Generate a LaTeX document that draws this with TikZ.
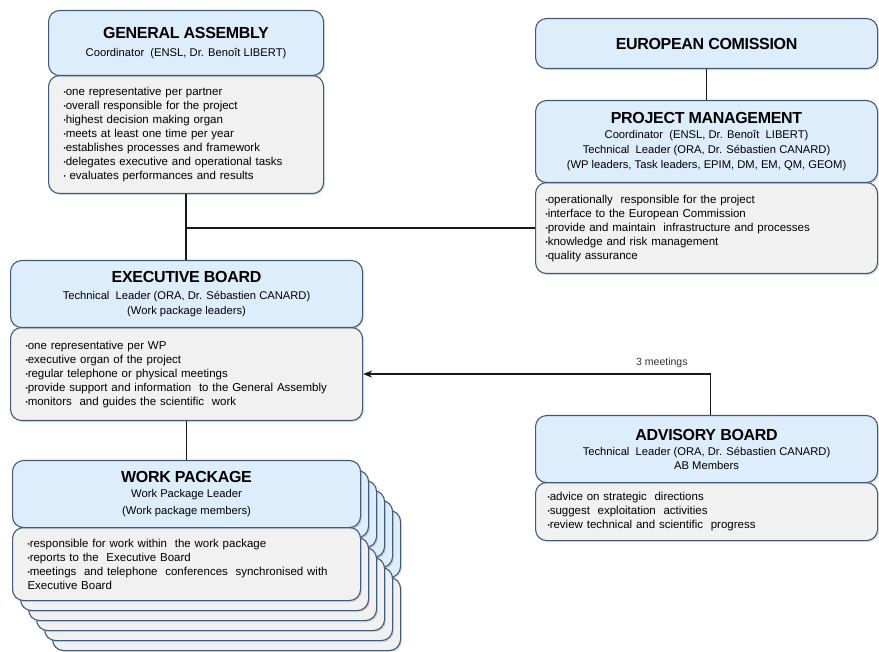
\documentclass[tikz,border=0pt]{standalone}
\usepackage{fontspec}
\usepackage{graphicx}
\setmainfont{Liberation Sans}
\newfontfamily\titlefont[LetterSpace=-2]{Liberation Sans}
\usetikzlibrary{shadows,arrows.meta}
\definecolor{hdrc}{RGB}{221,237,251}
\definecolor{bodc}{RGB}{241,241,241}
\definecolor{bordc}{RGB}{66,90,122}
\definecolor{linec}{RGB}{25,25,25}
\newcommand{\bul}{\raisebox{0.12ex}{\scalebox{0.55}{•}}}
\newcommand{\ttl}[1]{{\titlefont\bfseries\fontsize{16}{15}\selectfont #1}}
\tikzset{
  boxbase/.style={draw=bordc, line width=1.1pt, rounded corners=11pt, anchor=north west,
    drop shadow={opacity=0.25, shadow xshift=1.5pt, shadow yshift=-1.5pt}},
  hdr/.style={boxbase, fill=hdrc, align=center, inner sep=0pt, font=\fontsize{11.2}{15}\selectfont},
  bodyb/.style={boxbase, fill=bodc, align=left, inner ysep=0pt, font=\fontsize{11.5}{14}\selectfont},
  conn/.style={line width=1.6pt, draw=linec},
}
\begin{document}
\begin{tikzpicture}[x=1pt,y=-1pt]
\useasboundingbox (0,0) rectangle (879,652);
\fill[white] (0,0) rectangle (879,652);

% General Assembly
\node[bodyb, minimum width=275pt, minimum height=118pt, text width=245pt, inner xsep=15pt] (gaB) at (48,75)
{\bul one representative per partner\\ \bul overall responsible for the project\\ \bul highest decision making organ\\ \bul meets at least one time per year\\ \bul establishes processes and framework\\ \bul delegates executive and operational tasks\\ \bul\ evaluates performances and results};
\node[hdr, minimum width=275pt, minimum height=65pt] (gaH) at (48,10)
{\ttl{GENERAL ASSEMBLY}\\[3pt] Coordinator\ \ (ENSL, Dr. Benoît LIBERT)};

% European Commission
\node[hdr, minimum width=342pt, minimum height=50pt] (ec) at (535,18) {\ttl{EUROPEAN COMISSION}};

% Project Management
\node[bodyb, minimum width=342pt, minimum height=91pt, text width=322pt, inner xsep=10pt] (pmB) at (535,182)
{\bul operationally\ \ responsible for the project\\ \bul interface to the European Commission\\ \bul provide and maintain\ \ infrastructure and processes\\ \bul knowledge and risk management\\ \bul quality assurance};
\node[hdr, minimum width=342pt, minimum height=82pt] (pmH) at (535,100)
{\ttl{PROJECT MANAGEMENT}\\ Coordinator\ \ (ENSL, Dr. Benoît\ \ LIBERT)\\ Technical\ \ Leader (ORA, Dr. Sébastien CANARD)\\ (WP leaders, Task leaders, EPIM, DM, EM, QM, GEOM)};

% Executive Board
\node[bodyb, minimum width=352pt, minimum height=93pt, text width=322pt, inner xsep=15pt] (ebB) at (10,327)
{\bul one representative per WP\\ \bul executive organ\ of the project\\ \bul regular telephone\ or physical meetings\\ \bul provide support and information\ \ to the General Assembly\\ \bul monitors\ \ and guides the scientific\ \ work};
\node[hdr, minimum width=352pt, minimum height=67pt] (ebH) at (10,260)
{\ttl{EXECUTIVE BOARD}\\[2pt] Technical\ \ Leader (ORA, Dr. Sébastien CANARD)\\ (Work package leaders)};

% Advisory Board
\node[bodyb, minimum width=342pt, minimum height=58pt, text width=318pt, inner xsep=12pt] (abB) at (535,482)
{\bul advice on strategic\ \ directions\\ \bul suggest\ \ exploitation\ \ activities\\ \bul review technical and scientific\ \ progress};
\node[hdr, minimum width=342pt, minimum height=67pt] (abH) at (535,415)
{\ttl{ADVISORY BOARD}\\ Technical\ \ Leader (ORA, Dr. Sébastien CANARD)\\[-1pt] AB Members};

% Work package stack
\foreach \k in {5,4,3,2,1}{
  \node[bodyb, minimum width=348pt, minimum height=73pt] (wpB\k) at (12+8*\k,527+10*\k) {};
  \node[hdr, minimum width=348pt, minimum height=67pt] (wpH\k) at (12+8*\k,460+10*\k) {};
}
\node[bodyb, minimum width=348pt, minimum height=73pt, text width=318pt, inner xsep=15pt] (wpB) at (12,527)
{\bul responsible for work within\ \ the work package\\ \bul reports to the\ \ Executive Board\\ \bul meetings\ \ and telephone\ \ conferences\ \ synchronised with\\ Executive Board};
\node[hdr, minimum width=348pt, minimum height=67pt] (wpH) at (12,460)
{\ttl{WORK PACKAGE}\\ Work Package Leader\\[2pt] (Work package members)};

% Connectors
\coordinate (j) at (gaB.south |- pmB.west);
\draw[conn] (gaB.south) -- (gaB.south |- ebH.north);
\draw[conn] (j) -- (pmB.west);
\draw[conn] (ec.south) -- (pmH.north);
\draw[conn] (ebB.south) -- (ebB.south |- wpH.north);
\coordinate (abtop) at ([xshift=4pt]abH.north);
\draw[conn, -{Stealth[length=9pt,width=7pt]}] (abtop) |- (ebB.east)
  node[pos=0.57, above=2pt, font=\fontsize{10.5}{12}\selectfont, text=black!80] (lbl) {3 meetings};
\end{tikzpicture}
\end{document}
